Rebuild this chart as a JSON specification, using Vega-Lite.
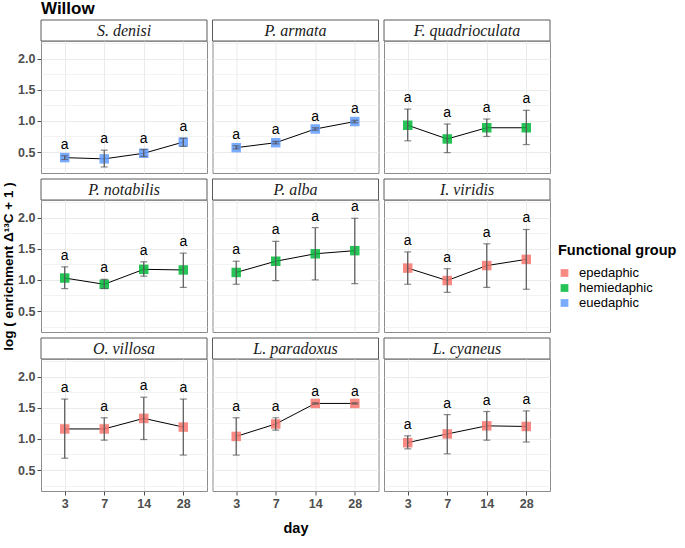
{
  "$schema": "https://vega.github.io/schema/vega-lite/v6.json",
  "padding": {"left": 1, "top": 0, "right": 0, "bottom": 0},
  "title": {"text": "Willow", "anchor": "start", "frame": "group", "font": "Liberation Sans", "fontSize": 17, "fontWeight": "bold", "color": "black", "offset": -4},
  "datasets": {
    "d": [
      {"species": "S. denisi", "group": "euedaphic", "day": 3, "mean": 0.41, "lo": 0.38, "hi": 0.44},
      {"species": "S. denisi", "group": "euedaphic", "day": 7, "mean": 0.39, "lo": 0.26, "hi": 0.53},
      {"species": "S. denisi", "group": "euedaphic", "day": 14, "mean": 0.48, "lo": 0.43, "hi": 0.54},
      {"species": "S. denisi", "group": "euedaphic", "day": 28, "mean": 0.66, "lo": 0.59, "hi": 0.72},
      {"species": "P. armata", "group": "euedaphic", "day": 3, "mean": 0.57, "lo": 0.55, "hi": 0.6},
      {"species": "P. armata", "group": "euedaphic", "day": 7, "mean": 0.65, "lo": 0.63, "hi": 0.67},
      {"species": "P. armata", "group": "euedaphic", "day": 14, "mean": 0.87, "lo": 0.85, "hi": 0.89},
      {"species": "P. armata", "group": "euedaphic", "day": 28, "mean": 0.99, "lo": 0.97, "hi": 1.01},
      {"species": "F. quadrioculata", "group": "hemiedaphic", "day": 3, "mean": 0.93, "lo": 0.68, "hi": 1.19},
      {"species": "F. quadrioculata", "group": "hemiedaphic", "day": 7, "mean": 0.71, "lo": 0.49, "hi": 0.95},
      {"species": "F. quadrioculata", "group": "hemiedaphic", "day": 14, "mean": 0.89, "lo": 0.75, "hi": 1.03},
      {"species": "F. quadrioculata", "group": "hemiedaphic", "day": 28, "mean": 0.89, "lo": 0.62, "hi": 1.17},
      {"species": "P. notabilis", "group": "hemiedaphic", "day": 3, "mean": 1.03, "lo": 0.86, "hi": 1.21},
      {"species": "P. notabilis", "group": "hemiedaphic", "day": 7, "mean": 0.93, "lo": 0.86, "hi": 1.01},
      {"species": "P. notabilis", "group": "hemiedaphic", "day": 14, "mean": 1.17, "lo": 1.06, "hi": 1.29},
      {"species": "P. notabilis", "group": "hemiedaphic", "day": 28, "mean": 1.16, "lo": 0.88, "hi": 1.43},
      {"species": "P. alba", "group": "hemiedaphic", "day": 3, "mean": 1.12, "lo": 0.93, "hi": 1.3},
      {"species": "P. alba", "group": "hemiedaphic", "day": 7, "mean": 1.3, "lo": 0.99, "hi": 1.62},
      {"species": "P. alba", "group": "hemiedaphic", "day": 14, "mean": 1.42, "lo": 1.0, "hi": 1.84},
      {"species": "P. alba", "group": "hemiedaphic", "day": 28, "mean": 1.47, "lo": 0.94, "hi": 1.99},
      {"species": "I. viridis", "group": "epedaphic", "day": 3, "mean": 1.19, "lo": 0.93, "hi": 1.45},
      {"species": "I. viridis", "group": "epedaphic", "day": 7, "mean": 0.99, "lo": 0.8, "hi": 1.18},
      {"species": "I. viridis", "group": "epedaphic", "day": 14, "mean": 1.23, "lo": 0.88, "hi": 1.58},
      {"species": "I. viridis", "group": "epedaphic", "day": 28, "mean": 1.33, "lo": 0.85, "hi": 1.81},
      {"species": "O. villosa", "group": "epedaphic", "day": 3, "mean": 1.16, "lo": 0.69, "hi": 1.64},
      {"species": "O. villosa", "group": "epedaphic", "day": 7, "mean": 1.16, "lo": 0.98, "hi": 1.34},
      {"species": "O. villosa", "group": "epedaphic", "day": 14, "mean": 1.33, "lo": 0.99, "hi": 1.67},
      {"species": "O. villosa", "group": "epedaphic", "day": 28, "mean": 1.19, "lo": 0.74, "hi": 1.64},
      {"species": "L. paradoxus", "group": "epedaphic", "day": 3, "mean": 1.04, "lo": 0.74, "hi": 1.34},
      {"species": "L. paradoxus", "group": "epedaphic", "day": 7, "mean": 1.24, "lo": 1.14, "hi": 1.34},
      {"species": "L. paradoxus", "group": "epedaphic", "day": 14, "mean": 1.57, "lo": 1.56, "hi": 1.58},
      {"species": "L. paradoxus", "group": "epedaphic", "day": 28, "mean": 1.57, "lo": 1.56, "hi": 1.58},
      {"species": "L. cyaneus", "group": "epedaphic", "day": 3, "mean": 0.94, "lo": 0.84, "hi": 1.05},
      {"species": "L. cyaneus", "group": "epedaphic", "day": 7, "mean": 1.08, "lo": 0.76, "hi": 1.39},
      {"species": "L. cyaneus", "group": "epedaphic", "day": 14, "mean": 1.21, "lo": 0.98, "hi": 1.44},
      {"species": "L. cyaneus", "group": "epedaphic", "day": 28, "mean": 1.2, "lo": 0.95, "hi": 1.45}
    ]
  },
  "columns": 3,
  "spacing": {"row": 0, "column": 5.5},
  "bounds": "flush",
  "resolve": {"scale": {"color": "shared"}, "legend": {"color": "shared"}},
  "concat": [
    {"width": 166, "height": 27, "data": {"name": "d"}, "transform": [{"filter": {"field": "species", "equal": "S. denisi"}}, {"filter": {"field": "day", "equal": 3}}], "view": {"stroke": null},
     "encoding": {"y": {"field": "species", "type": "nominal", "scale": {"paddingInner": 0, "paddingOuter": 0.1429, "align": 1}, "axis": null}},
     "layer": [{"mark": {"type": "rect", "fill": "white", "stroke": "#5a5a5a", "strokeWidth": 1}}, {"mark": {"type": "text", "font": "Liberation Serif", "fontStyle": "italic", "fontSize": 16, "color": "#1a1a1a"}, "encoding": {"text": {"field": "species", "type": "nominal"}}}]},
    {"width": 166, "height": 27, "data": {"name": "d"}, "transform": [{"filter": {"field": "species", "equal": "P. armata"}}, {"filter": {"field": "day", "equal": 3}}], "view": {"stroke": null},
     "encoding": {"y": {"field": "species", "type": "nominal", "scale": {"paddingInner": 0, "paddingOuter": 0.1429, "align": 1}, "axis": null}},
     "layer": [{"mark": {"type": "rect", "fill": "white", "stroke": "#5a5a5a", "strokeWidth": 1}}, {"mark": {"type": "text", "font": "Liberation Serif", "fontStyle": "italic", "fontSize": 16, "color": "#1a1a1a"}, "encoding": {"text": {"field": "species", "type": "nominal"}}}]},
    {"width": 166, "height": 27, "data": {"name": "d"}, "transform": [{"filter": {"field": "species", "equal": "F. quadrioculata"}}, {"filter": {"field": "day", "equal": 3}}], "view": {"stroke": null},
     "encoding": {"y": {"field": "species", "type": "nominal", "scale": {"paddingInner": 0, "paddingOuter": 0.1429, "align": 1}, "axis": null}},
     "layer": [{"mark": {"type": "rect", "fill": "white", "stroke": "#5a5a5a", "strokeWidth": 1}}, {"mark": {"type": "text", "font": "Liberation Serif", "fontStyle": "italic", "fontSize": 16, "color": "#1a1a1a"}, "encoding": {"text": {"field": "species", "type": "nominal"}}}]},
    {"width": 166, "height": 132, "data": {"name": "d"}, "transform": [{"filter": {"field": "species", "equal": "S. denisi"}}], "view": {"stroke": "#8c8c8c"}, "resolve": {"axis": {"y": "independent"}},
     "encoding": {"x": {"field": "day", "type": "ordinal", "scale": {"type": "point", "padding": 0.6}, "axis": {"labels": false, "ticks": false, "title": null, "grid": true}}},
     "layer": [
       {"mark": {"type": "line", "color": "black", "strokeWidth": 1}, "encoding": {"y": {"field": "mean", "type": "quantitative", "scale": {"domain": [0.163, 2.284], "nice": false, "zero": false}, "axis": {"values": [0.5, 1, 1.5, 2], "format": ".1f", "gridWidth": 1.1, "title": null, "grid": true}}}},
       {"mark": {"type": "point", "shape": "square", "filled": true, "size": 90, "opacity": 0.85}, "encoding": {"y": {"field": "mean", "type": "quantitative", "axis": null}, "color": {"field": "group", "type": "nominal", "title": "Functional group", "scale": {"domain": ["epedaphic", "hemiedaphic", "euedaphic"], "range": ["#F8766D", "#00BA38", "#619CFF"]}}}},
       {"mark": {"type": "rule", "color": "#555555", "strokeWidth": 1.2}, "encoding": {"y": {"field": "lo", "type": "quantitative", "axis": null}, "y2": {"field": "hi"}}},
       {"mark": {"type": "tick", "color": "#555555", "thickness": 1.2, "size": 7}, "encoding": {"y": {"field": "lo", "type": "quantitative", "axis": {"values": [0.25, 0.75, 1.25, 1.75, 2.25], "labels": false, "ticks": false, "gridWidth": 0.6, "title": null, "grid": true}}}},
       {"mark": {"type": "tick", "color": "#555555", "thickness": 1.2, "size": 7}, "encoding": {"y": {"field": "hi", "type": "quantitative", "axis": null}}},
       {"mark": {"type": "text", "text": "a", "dy": -11, "fontSize": 14, "font": "Liberation Sans", "color": "black"}, "encoding": {"y": {"field": "hi", "type": "quantitative", "axis": null}}}
     ]},
    {"width": 166, "height": 132, "data": {"name": "d"}, "transform": [{"filter": {"field": "species", "equal": "P. armata"}}], "view": {"stroke": "#8c8c8c"}, "resolve": {"axis": {"y": "independent"}},
     "encoding": {"x": {"field": "day", "type": "ordinal", "scale": {"type": "point", "padding": 0.6}, "axis": {"labels": false, "ticks": false, "title": null, "grid": true}}},
     "layer": [
       {"mark": {"type": "line", "color": "black", "strokeWidth": 1}, "encoding": {"y": {"field": "mean", "type": "quantitative", "scale": {"domain": [0.163, 2.284], "nice": false, "zero": false}, "axis": {"values": [0.5, 1, 1.5, 2], "labels": false, "ticks": false, "gridWidth": 1.1, "title": null, "grid": true}}}},
       {"mark": {"type": "point", "shape": "square", "filled": true, "size": 90, "opacity": 0.85}, "encoding": {"y": {"field": "mean", "type": "quantitative", "axis": null}, "color": {"field": "group", "type": "nominal", "title": "Functional group", "scale": {"domain": ["epedaphic", "hemiedaphic", "euedaphic"], "range": ["#F8766D", "#00BA38", "#619CFF"]}}}},
       {"mark": {"type": "rule", "color": "#555555", "strokeWidth": 1.2}, "encoding": {"y": {"field": "lo", "type": "quantitative", "axis": null}, "y2": {"field": "hi"}}},
       {"mark": {"type": "tick", "color": "#555555", "thickness": 1.2, "size": 7}, "encoding": {"y": {"field": "lo", "type": "quantitative", "axis": {"values": [0.25, 0.75, 1.25, 1.75, 2.25], "labels": false, "ticks": false, "gridWidth": 0.6, "title": null, "grid": true}}}},
       {"mark": {"type": "tick", "color": "#555555", "thickness": 1.2, "size": 7}, "encoding": {"y": {"field": "hi", "type": "quantitative", "axis": null}}},
       {"mark": {"type": "text", "text": "a", "dy": -11, "fontSize": 14, "font": "Liberation Sans", "color": "black"}, "encoding": {"y": {"field": "hi", "type": "quantitative", "axis": null}}}
     ]},
    {"width": 166, "height": 132, "data": {"name": "d"}, "transform": [{"filter": {"field": "species", "equal": "F. quadrioculata"}}], "view": {"stroke": "#8c8c8c"}, "resolve": {"axis": {"y": "independent"}},
     "encoding": {"x": {"field": "day", "type": "ordinal", "scale": {"type": "point", "padding": 0.6}, "axis": {"labels": false, "ticks": false, "title": null, "grid": true}}},
     "layer": [
       {"mark": {"type": "line", "color": "black", "strokeWidth": 1}, "encoding": {"y": {"field": "mean", "type": "quantitative", "scale": {"domain": [0.163, 2.284], "nice": false, "zero": false}, "axis": {"values": [0.5, 1, 1.5, 2], "labels": false, "ticks": false, "gridWidth": 1.1, "title": null, "grid": true}}}},
       {"mark": {"type": "point", "shape": "square", "filled": true, "size": 90, "opacity": 0.85}, "encoding": {"y": {"field": "mean", "type": "quantitative", "axis": null}, "color": {"field": "group", "type": "nominal", "title": "Functional group", "scale": {"domain": ["epedaphic", "hemiedaphic", "euedaphic"], "range": ["#F8766D", "#00BA38", "#619CFF"]}}}},
       {"mark": {"type": "rule", "color": "#555555", "strokeWidth": 1.2}, "encoding": {"y": {"field": "lo", "type": "quantitative", "axis": null}, "y2": {"field": "hi"}}},
       {"mark": {"type": "tick", "color": "#555555", "thickness": 1.2, "size": 7}, "encoding": {"y": {"field": "lo", "type": "quantitative", "axis": {"values": [0.25, 0.75, 1.25, 1.75, 2.25], "labels": false, "ticks": false, "gridWidth": 0.6, "title": null, "grid": true}}}},
       {"mark": {"type": "tick", "color": "#555555", "thickness": 1.2, "size": 7}, "encoding": {"y": {"field": "hi", "type": "quantitative", "axis": null}}},
       {"mark": {"type": "text", "text": "a", "dy": -11, "fontSize": 14, "font": "Liberation Sans", "color": "black"}, "encoding": {"y": {"field": "hi", "type": "quantitative", "axis": null}}}
     ]},
    {"width": 166, "height": 27, "data": {"name": "d"}, "transform": [{"filter": {"field": "species", "equal": "P. notabilis"}}, {"filter": {"field": "day", "equal": 3}}], "view": {"stroke": null},
     "encoding": {"y": {"field": "species", "type": "nominal", "scale": {"paddingInner": 0, "paddingOuter": 0.1429, "align": 1}, "axis": null}},
     "layer": [{"mark": {"type": "rect", "fill": "white", "stroke": "#5a5a5a", "strokeWidth": 1}}, {"mark": {"type": "text", "font": "Liberation Serif", "fontStyle": "italic", "fontSize": 16, "color": "#1a1a1a"}, "encoding": {"text": {"field": "species", "type": "nominal"}}}]},
    {"width": 166, "height": 27, "data": {"name": "d"}, "transform": [{"filter": {"field": "species", "equal": "P. alba"}}, {"filter": {"field": "day", "equal": 3}}], "view": {"stroke": null},
     "encoding": {"y": {"field": "species", "type": "nominal", "scale": {"paddingInner": 0, "paddingOuter": 0.1429, "align": 1}, "axis": null}},
     "layer": [{"mark": {"type": "rect", "fill": "white", "stroke": "#5a5a5a", "strokeWidth": 1}}, {"mark": {"type": "text", "font": "Liberation Serif", "fontStyle": "italic", "fontSize": 16, "color": "#1a1a1a"}, "encoding": {"text": {"field": "species", "type": "nominal"}}}]},
    {"width": 166, "height": 27, "data": {"name": "d"}, "transform": [{"filter": {"field": "species", "equal": "I. viridis"}}, {"filter": {"field": "day", "equal": 3}}], "view": {"stroke": null},
     "encoding": {"y": {"field": "species", "type": "nominal", "scale": {"paddingInner": 0, "paddingOuter": 0.1429, "align": 1}, "axis": null}},
     "layer": [{"mark": {"type": "rect", "fill": "white", "stroke": "#5a5a5a", "strokeWidth": 1}}, {"mark": {"type": "text", "font": "Liberation Serif", "fontStyle": "italic", "fontSize": 16, "color": "#1a1a1a"}, "encoding": {"text": {"field": "species", "type": "nominal"}}}]},
    {"width": 166, "height": 132, "data": {"name": "d"}, "transform": [{"filter": {"field": "species", "equal": "P. notabilis"}}], "view": {"stroke": "#8c8c8c"}, "resolve": {"axis": {"y": "independent"}},
     "encoding": {"x": {"field": "day", "type": "ordinal", "scale": {"type": "point", "padding": 0.6}, "axis": {"labels": false, "ticks": false, "title": null, "grid": true}}},
     "layer": [
       {"mark": {"type": "line", "color": "black", "strokeWidth": 1}, "encoding": {"y": {"field": "mean", "type": "quantitative", "scale": {"domain": [0.163, 2.284], "nice": false, "zero": false}, "axis": {"values": [0.5, 1, 1.5, 2], "format": ".1f", "gridWidth": 1.1, "title": "log ( enrichment Δ¹³C  + 1 )", "titleFontSize": 13.5, "titlePadding": 2, "grid": true}}}},
       {"mark": {"type": "point", "shape": "square", "filled": true, "size": 90, "opacity": 0.85}, "encoding": {"y": {"field": "mean", "type": "quantitative", "axis": null}, "color": {"field": "group", "type": "nominal", "title": "Functional group", "scale": {"domain": ["epedaphic", "hemiedaphic", "euedaphic"], "range": ["#F8766D", "#00BA38", "#619CFF"]}}}},
       {"mark": {"type": "rule", "color": "#555555", "strokeWidth": 1.2}, "encoding": {"y": {"field": "lo", "type": "quantitative", "axis": null}, "y2": {"field": "hi"}}},
       {"mark": {"type": "tick", "color": "#555555", "thickness": 1.2, "size": 7}, "encoding": {"y": {"field": "lo", "type": "quantitative", "axis": {"values": [0.25, 0.75, 1.25, 1.75, 2.25], "labels": false, "ticks": false, "gridWidth": 0.6, "title": null, "grid": true}}}},
       {"mark": {"type": "tick", "color": "#555555", "thickness": 1.2, "size": 7}, "encoding": {"y": {"field": "hi", "type": "quantitative", "axis": null}}},
       {"mark": {"type": "text", "text": "a", "dy": -11, "fontSize": 14, "font": "Liberation Sans", "color": "black"}, "encoding": {"y": {"field": "hi", "type": "quantitative", "axis": null}}}
     ]},
    {"width": 166, "height": 132, "data": {"name": "d"}, "transform": [{"filter": {"field": "species", "equal": "P. alba"}}], "view": {"stroke": "#8c8c8c"}, "resolve": {"axis": {"y": "independent"}},
     "encoding": {"x": {"field": "day", "type": "ordinal", "scale": {"type": "point", "padding": 0.6}, "axis": {"labels": false, "ticks": false, "title": null, "grid": true}}},
     "layer": [
       {"mark": {"type": "line", "color": "black", "strokeWidth": 1}, "encoding": {"y": {"field": "mean", "type": "quantitative", "scale": {"domain": [0.163, 2.284], "nice": false, "zero": false}, "axis": {"values": [0.5, 1, 1.5, 2], "labels": false, "ticks": false, "gridWidth": 1.1, "title": null, "grid": true}}}},
       {"mark": {"type": "point", "shape": "square", "filled": true, "size": 90, "opacity": 0.85}, "encoding": {"y": {"field": "mean", "type": "quantitative", "axis": null}, "color": {"field": "group", "type": "nominal", "title": "Functional group", "scale": {"domain": ["epedaphic", "hemiedaphic", "euedaphic"], "range": ["#F8766D", "#00BA38", "#619CFF"]}}}},
       {"mark": {"type": "rule", "color": "#555555", "strokeWidth": 1.2}, "encoding": {"y": {"field": "lo", "type": "quantitative", "axis": null}, "y2": {"field": "hi"}}},
       {"mark": {"type": "tick", "color": "#555555", "thickness": 1.2, "size": 7}, "encoding": {"y": {"field": "lo", "type": "quantitative", "axis": {"values": [0.25, 0.75, 1.25, 1.75, 2.25], "labels": false, "ticks": false, "gridWidth": 0.6, "title": null, "grid": true}}}},
       {"mark": {"type": "tick", "color": "#555555", "thickness": 1.2, "size": 7}, "encoding": {"y": {"field": "hi", "type": "quantitative", "axis": null}}},
       {"mark": {"type": "text", "text": "a", "dy": -11, "fontSize": 14, "font": "Liberation Sans", "color": "black"}, "encoding": {"y": {"field": "hi", "type": "quantitative", "axis": null}}}
     ]},
    {"width": 166, "height": 132, "data": {"name": "d"}, "transform": [{"filter": {"field": "species", "equal": "I. viridis"}}], "view": {"stroke": "#8c8c8c"}, "resolve": {"axis": {"y": "independent"}},
     "encoding": {"x": {"field": "day", "type": "ordinal", "scale": {"type": "point", "padding": 0.6}, "axis": {"labels": false, "ticks": false, "title": null, "grid": true}}},
     "layer": [
       {"mark": {"type": "line", "color": "black", "strokeWidth": 1}, "encoding": {"y": {"field": "mean", "type": "quantitative", "scale": {"domain": [0.163, 2.284], "nice": false, "zero": false}, "axis": {"values": [0.5, 1, 1.5, 2], "labels": false, "ticks": false, "gridWidth": 1.1, "title": null, "grid": true}}}},
       {"mark": {"type": "point", "shape": "square", "filled": true, "size": 90, "opacity": 0.85}, "encoding": {"y": {"field": "mean", "type": "quantitative", "axis": null}, "color": {"field": "group", "type": "nominal", "title": "Functional group", "scale": {"domain": ["epedaphic", "hemiedaphic", "euedaphic"], "range": ["#F8766D", "#00BA38", "#619CFF"]}}}},
       {"mark": {"type": "rule", "color": "#555555", "strokeWidth": 1.2}, "encoding": {"y": {"field": "lo", "type": "quantitative", "axis": null}, "y2": {"field": "hi"}}},
       {"mark": {"type": "tick", "color": "#555555", "thickness": 1.2, "size": 7}, "encoding": {"y": {"field": "lo", "type": "quantitative", "axis": {"values": [0.25, 0.75, 1.25, 1.75, 2.25], "labels": false, "ticks": false, "gridWidth": 0.6, "title": null, "grid": true}}}},
       {"mark": {"type": "tick", "color": "#555555", "thickness": 1.2, "size": 7}, "encoding": {"y": {"field": "hi", "type": "quantitative", "axis": null}}},
       {"mark": {"type": "text", "text": "a", "dy": -11, "fontSize": 14, "font": "Liberation Sans", "color": "black"}, "encoding": {"y": {"field": "hi", "type": "quantitative", "axis": null}}}
     ]},
    {"width": 166, "height": 27, "data": {"name": "d"}, "transform": [{"filter": {"field": "species", "equal": "O. villosa"}}, {"filter": {"field": "day", "equal": 3}}], "view": {"stroke": null},
     "encoding": {"y": {"field": "species", "type": "nominal", "scale": {"paddingInner": 0, "paddingOuter": 0.1429, "align": 1}, "axis": null}},
     "layer": [{"mark": {"type": "rect", "fill": "white", "stroke": "#5a5a5a", "strokeWidth": 1}}, {"mark": {"type": "text", "font": "Liberation Serif", "fontStyle": "italic", "fontSize": 16, "color": "#1a1a1a"}, "encoding": {"text": {"field": "species", "type": "nominal"}}}]},
    {"width": 166, "height": 27, "data": {"name": "d"}, "transform": [{"filter": {"field": "species", "equal": "L. paradoxus"}}, {"filter": {"field": "day", "equal": 3}}], "view": {"stroke": null},
     "encoding": {"y": {"field": "species", "type": "nominal", "scale": {"paddingInner": 0, "paddingOuter": 0.1429, "align": 1}, "axis": null}},
     "layer": [{"mark": {"type": "rect", "fill": "white", "stroke": "#5a5a5a", "strokeWidth": 1}}, {"mark": {"type": "text", "font": "Liberation Serif", "fontStyle": "italic", "fontSize": 16, "color": "#1a1a1a"}, "encoding": {"text": {"field": "species", "type": "nominal"}}}]},
    {"width": 166, "height": 27, "data": {"name": "d"}, "transform": [{"filter": {"field": "species", "equal": "L. cyaneus"}}, {"filter": {"field": "day", "equal": 3}}], "view": {"stroke": null},
     "encoding": {"y": {"field": "species", "type": "nominal", "scale": {"paddingInner": 0, "paddingOuter": 0.1429, "align": 1}, "axis": null}},
     "layer": [{"mark": {"type": "rect", "fill": "white", "stroke": "#5a5a5a", "strokeWidth": 1}}, {"mark": {"type": "text", "font": "Liberation Serif", "fontStyle": "italic", "fontSize": 16, "color": "#1a1a1a"}, "encoding": {"text": {"field": "species", "type": "nominal"}}}]},
    {"width": 166, "height": 132, "data": {"name": "d"}, "transform": [{"filter": {"field": "species", "equal": "O. villosa"}}], "view": {"stroke": "#8c8c8c"}, "resolve": {"axis": {"y": "independent"}},
     "encoding": {"x": {"field": "day", "type": "ordinal", "scale": {"type": "point", "padding": 0.6}, "axis": {"labelAngle": 0, "title": null, "grid": true}}},
     "layer": [
       {"mark": {"type": "line", "color": "black", "strokeWidth": 1}, "encoding": {"y": {"field": "mean", "type": "quantitative", "scale": {"domain": [0.163, 2.284], "nice": false, "zero": false}, "axis": {"values": [0.5, 1, 1.5, 2], "format": ".1f", "gridWidth": 1.1, "title": null, "grid": true}}}},
       {"mark": {"type": "point", "shape": "square", "filled": true, "size": 90, "opacity": 0.85}, "encoding": {"y": {"field": "mean", "type": "quantitative", "axis": null}, "color": {"field": "group", "type": "nominal", "title": "Functional group", "scale": {"domain": ["epedaphic", "hemiedaphic", "euedaphic"], "range": ["#F8766D", "#00BA38", "#619CFF"]}}}},
       {"mark": {"type": "rule", "color": "#555555", "strokeWidth": 1.2}, "encoding": {"y": {"field": "lo", "type": "quantitative", "axis": null}, "y2": {"field": "hi"}}},
       {"mark": {"type": "tick", "color": "#555555", "thickness": 1.2, "size": 7}, "encoding": {"y": {"field": "lo", "type": "quantitative", "axis": {"values": [0.25, 0.75, 1.25, 1.75, 2.25], "labels": false, "ticks": false, "gridWidth": 0.6, "title": null, "grid": true}}}},
       {"mark": {"type": "tick", "color": "#555555", "thickness": 1.2, "size": 7}, "encoding": {"y": {"field": "hi", "type": "quantitative", "axis": null}}},
       {"mark": {"type": "text", "text": "a", "dy": -11, "fontSize": 14, "font": "Liberation Sans", "color": "black"}, "encoding": {"y": {"field": "hi", "type": "quantitative", "axis": null}}}
     ]},
    {"width": 166, "height": 132, "data": {"name": "d"}, "transform": [{"filter": {"field": "species", "equal": "L. paradoxus"}}], "view": {"stroke": "#8c8c8c"}, "resolve": {"axis": {"y": "independent"}},
     "encoding": {"x": {"field": "day", "type": "ordinal", "scale": {"type": "point", "padding": 0.6}, "axis": {"labelAngle": 0, "title": "day", "titleFontSize": 14.5, "titlePadding": 12, "grid": true}}},
     "layer": [
       {"mark": {"type": "line", "color": "black", "strokeWidth": 1}, "encoding": {"y": {"field": "mean", "type": "quantitative", "scale": {"domain": [0.163, 2.284], "nice": false, "zero": false}, "axis": {"values": [0.5, 1, 1.5, 2], "labels": false, "ticks": false, "gridWidth": 1.1, "title": null, "grid": true}}}},
       {"mark": {"type": "point", "shape": "square", "filled": true, "size": 90, "opacity": 0.85}, "encoding": {"y": {"field": "mean", "type": "quantitative", "axis": null}, "color": {"field": "group", "type": "nominal", "title": "Functional group", "scale": {"domain": ["epedaphic", "hemiedaphic", "euedaphic"], "range": ["#F8766D", "#00BA38", "#619CFF"]}}}},
       {"mark": {"type": "rule", "color": "#555555", "strokeWidth": 1.2}, "encoding": {"y": {"field": "lo", "type": "quantitative", "axis": null}, "y2": {"field": "hi"}}},
       {"mark": {"type": "tick", "color": "#555555", "thickness": 1.2, "size": 7}, "encoding": {"y": {"field": "lo", "type": "quantitative", "axis": {"values": [0.25, 0.75, 1.25, 1.75, 2.25], "labels": false, "ticks": false, "gridWidth": 0.6, "title": null, "grid": true}}}},
       {"mark": {"type": "tick", "color": "#555555", "thickness": 1.2, "size": 7}, "encoding": {"y": {"field": "hi", "type": "quantitative", "axis": null}}},
       {"mark": {"type": "text", "text": "a", "dy": -11, "fontSize": 14, "font": "Liberation Sans", "color": "black"}, "encoding": {"y": {"field": "hi", "type": "quantitative", "axis": null}}}
     ]},
    {"width": 166, "height": 132, "data": {"name": "d"}, "transform": [{"filter": {"field": "species", "equal": "L. cyaneus"}}], "view": {"stroke": "#8c8c8c"}, "resolve": {"axis": {"y": "independent"}},
     "encoding": {"x": {"field": "day", "type": "ordinal", "scale": {"type": "point", "padding": 0.6}, "axis": {"labelAngle": 0, "title": null, "grid": true}}},
     "layer": [
       {"mark": {"type": "line", "color": "black", "strokeWidth": 1}, "encoding": {"y": {"field": "mean", "type": "quantitative", "scale": {"domain": [0.163, 2.284], "nice": false, "zero": false}, "axis": {"values": [0.5, 1, 1.5, 2], "labels": false, "ticks": false, "gridWidth": 1.1, "title": null, "grid": true}}}},
       {"mark": {"type": "point", "shape": "square", "filled": true, "size": 90, "opacity": 0.85}, "encoding": {"y": {"field": "mean", "type": "quantitative", "axis": null}, "color": {"field": "group", "type": "nominal", "title": "Functional group", "scale": {"domain": ["epedaphic", "hemiedaphic", "euedaphic"], "range": ["#F8766D", "#00BA38", "#619CFF"]}}}},
       {"mark": {"type": "rule", "color": "#555555", "strokeWidth": 1.2}, "encoding": {"y": {"field": "lo", "type": "quantitative", "axis": null}, "y2": {"field": "hi"}}},
       {"mark": {"type": "tick", "color": "#555555", "thickness": 1.2, "size": 7}, "encoding": {"y": {"field": "lo", "type": "quantitative", "axis": {"values": [0.25, 0.75, 1.25, 1.75, 2.25], "labels": false, "ticks": false, "gridWidth": 0.6, "title": null, "grid": true}}}},
       {"mark": {"type": "tick", "color": "#555555", "thickness": 1.2, "size": 7}, "encoding": {"y": {"field": "hi", "type": "quantitative", "axis": null}}},
       {"mark": {"type": "text", "text": "a", "dy": -11, "fontSize": 14, "font": "Liberation Sans", "color": "black"}, "encoding": {"y": {"field": "hi", "type": "quantitative", "axis": null}}}
     ]}
  ],
  "config": {
    "font": "Liberation Sans",
    "axis": {"domain": false, "gridColor": "#ebebeb", "labelFont": "Liberation Sans", "labelFontWeight": "bold", "labelColor": "#4d4d4d", "labelFontSize": 12.5, "tickColor": "#4d4d4d", "tickSize": 4, "tickWidth": 1, "labelPadding": 2, "titleFont": "Liberation Sans", "titleFontWeight": "bold", "titleColor": "black"},
    "legend": {"orient": "none", "legendX": 517, "legendY": 230, "symbolType": "square", "symbolSize": 60, "symbolOpacity": 0.85, "symbolStrokeWidth": 0, "titleFont": "Liberation Sans", "titleFontSize": 14.5, "titleFontWeight": "bold", "titleColor": "black", "labelFont": "Liberation Sans", "labelFontSize": 13, "labelColor": "black", "rowPadding": 1, "titlePadding": 8, "labelOffset": 8}
  }
}
